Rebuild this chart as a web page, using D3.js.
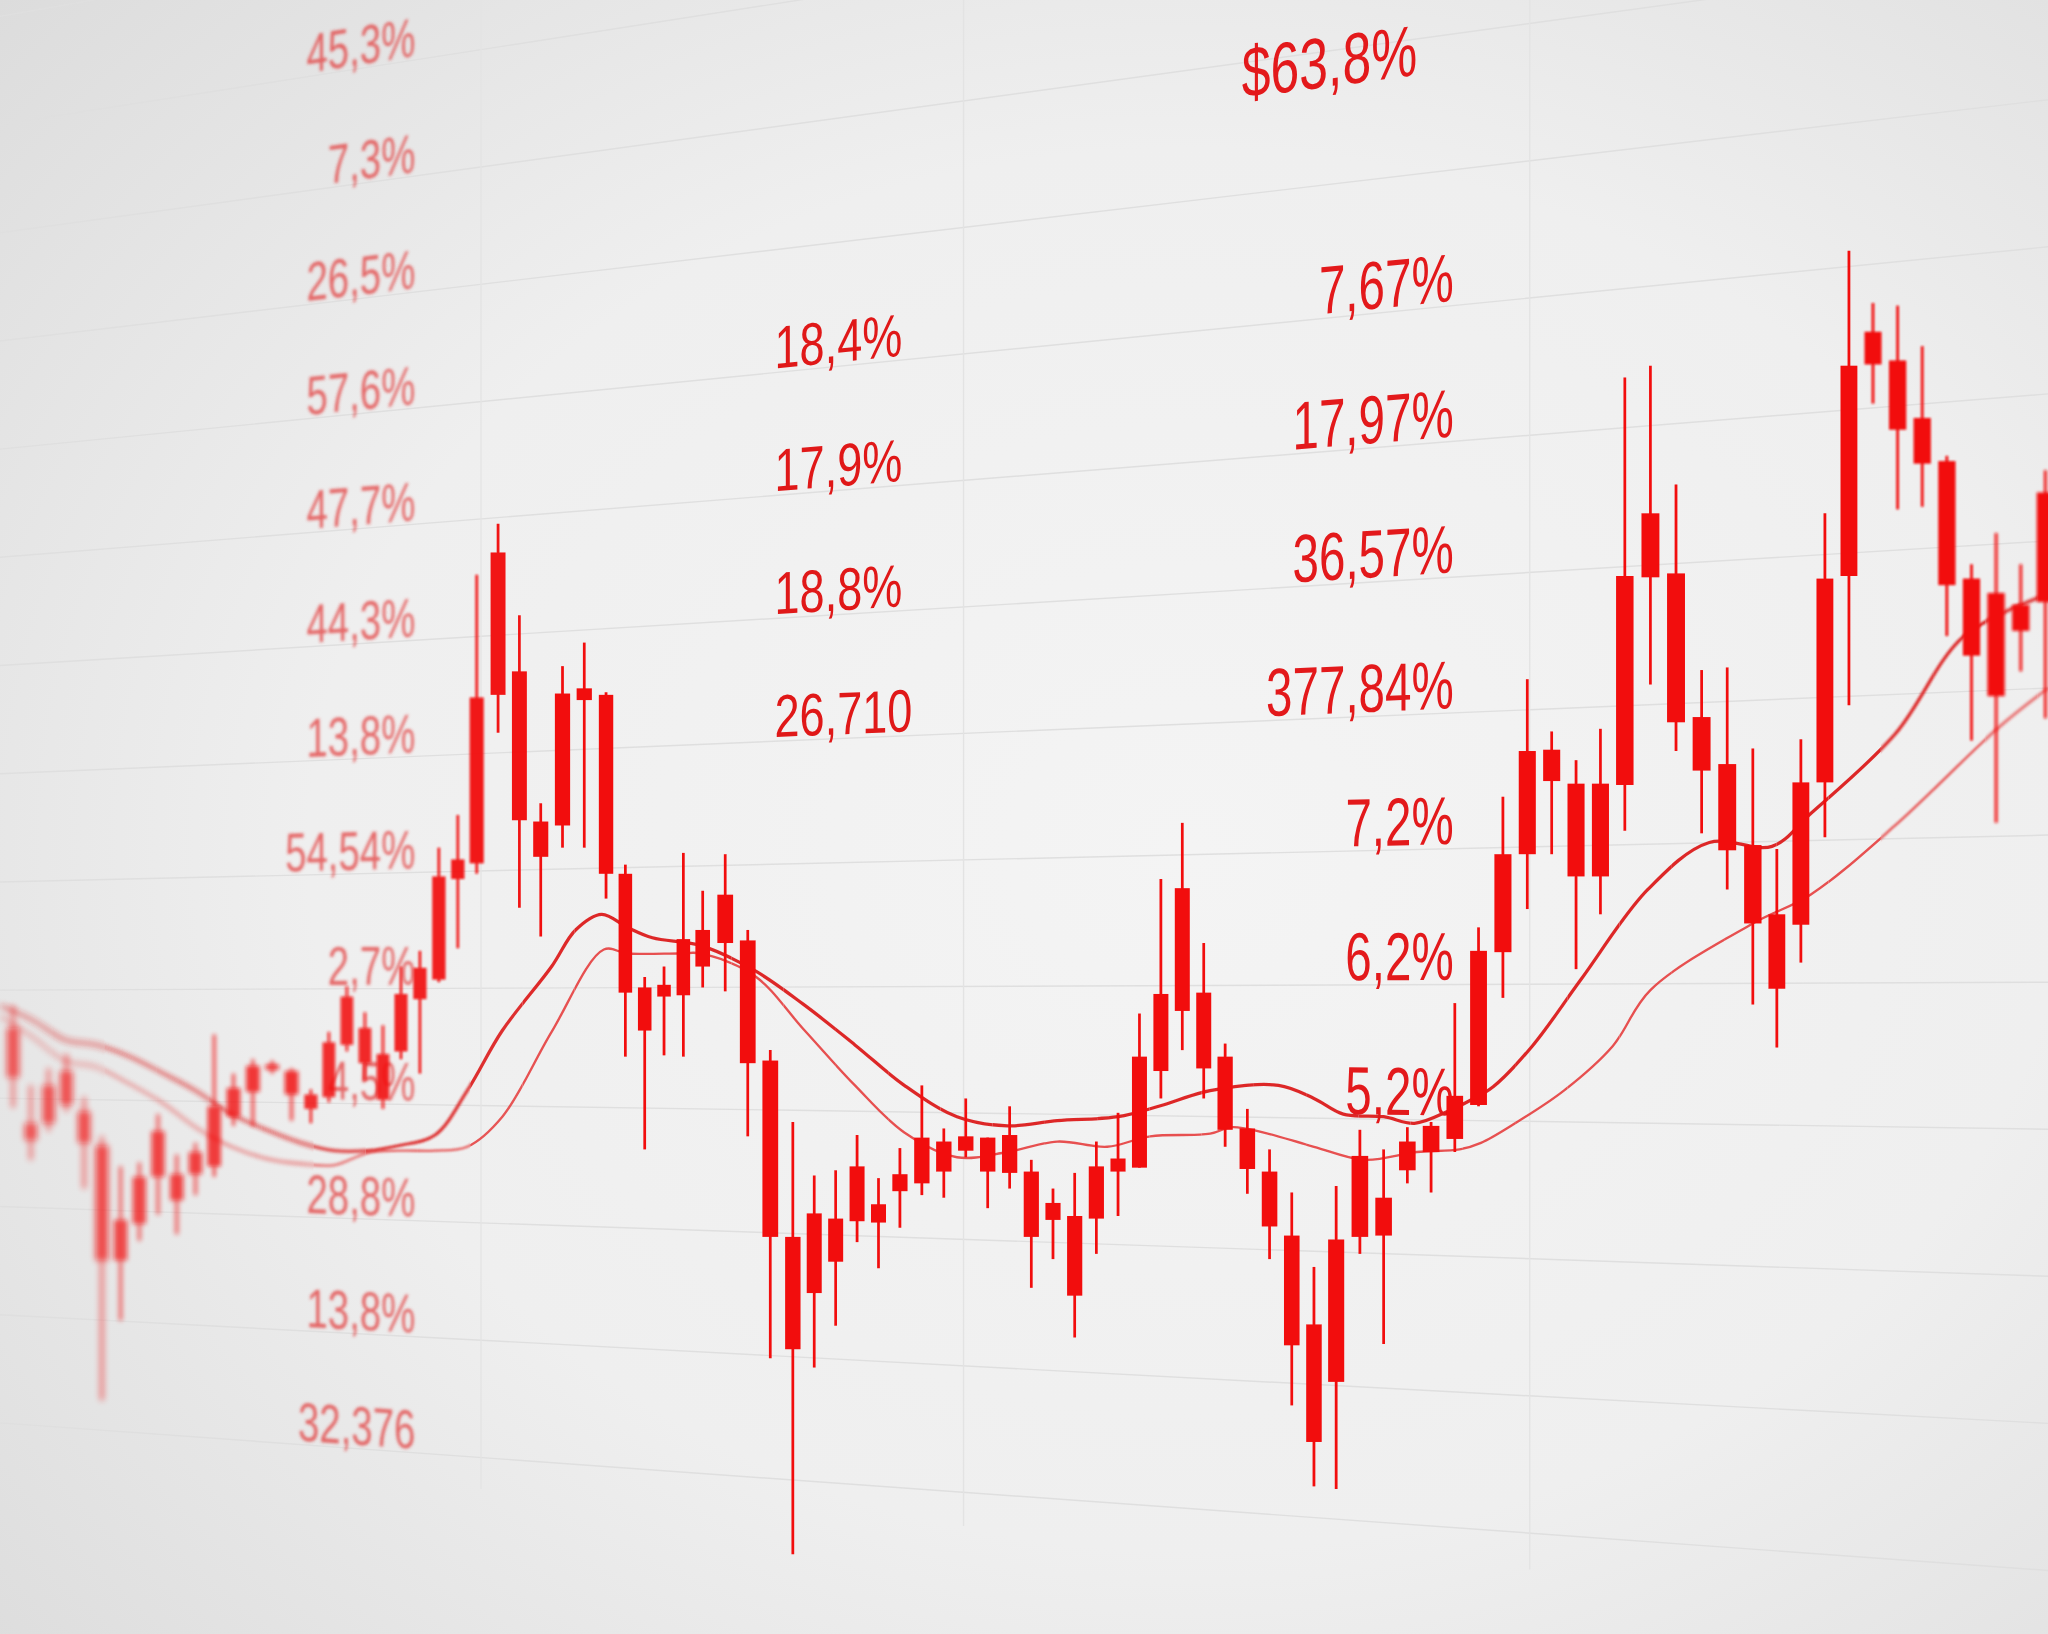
<!DOCTYPE html>
<html>
<head>
<meta charset="utf-8">
<script src="https://cdn.jsdelivr.net/npm/d3@7"></script>
<style>
html, body { margin: 0; padding: 0; overflow: hidden; background: #eeeeee; }
svg { display: block; }
</style>
</head>
<body>
<svg id="chart" width="2048" height="1634"></svg>
<script>
// ---------------- DATA ----------------
const open = [46.4,39.1,39.1,40.5,40.0,37.4,31.7,31.4,35.0,35.2,
  35.2,35.8,39.6,41.5,43.2,43.1,41.3,41.1,45.1,46.4,
  44.4,44.6,48.6,50.1,57.8,59.0,71.9,73.7,62.2,61.9,
  71.5,71.9,58.2,49.5,48.8,48.9,51.1,52.9,53.1,43.9,
  30.4,26.1,28.5,31.6,32.9,33.9,34.5,35.4,37.0,38.0,
  35.3,35.4,33.0,32.0,31.8,35.4,35.7,43.1,47.7,49.1,
  44.2,38.7,35.4,30.5,23.7,19.3,30.4,33.4,35.5,36.9,
  37.9,40.5,52.2,59.7,65.3,65.1,58.0,65.0,80.9,81.2,
  70.2,66.6,60.4,55.1,54.3,65.2,81.0,97.2,97.5,93.1,
  89.8,80.8,79.7,76.8,79.0];
const close = [42.6,37.8,42.0,43.1,37.6,28.6,28.6,35.0,38.5,33.2,
  36.9,40.4,41.8,43.5,43.6,41.3,40.2,45.3,48.8,43.7,
  40.9,49.0,51.0,58.0,59.3,71.7,82.8,62.3,59.5,72.0,
  72.4,58.2,49.1,46.2,49.7,53.2,53.9,56.6,43.7,30.4,
  21.8,32.2,31.8,35.8,31.5,35.2,38.0,37.7,38.1,35.4,
  38.2,30.4,31.7,25.9,35.8,36.4,44.2,49.0,57.1,43.3,
  38.6,35.6,31.2,22.1,14.7,30.2,36.6,30.5,37.7,38.9,
  41.2,52.3,59.7,67.6,67.7,58.0,65.1,81.0,85.8,69.8,
  66.1,60.0,54.4,49.4,65.2,80.8,97.1,99.7,92.2,89.6,
  80.3,74.9,71.8,78.8,87.4];
const high = [48.1,42.0,43.3,44.4,41.1,38.1,35.8,36.1,39.8,36.7,
  37.6,45.9,42.9,44.0,43.9,43.3,41.7,46.1,49.6,47.6,
  46.6,51.1,52.3,60.2,62.7,81.1,85.0,78.0,63.6,74.1,
  75.9,72.1,58.9,50.3,51.1,59.8,56.9,59.7,53.9,44.7,
  39.2,35.1,35.5,38.2,34.9,37.2,42.0,38.7,41.0,38.0,
  40.4,36.3,34.1,35.3,37.7,39.9,47.5,57.8,62.1,52.9,
  45.2,40.2,37.1,33.8,28.1,34.3,38.6,37.1,38.8,39.2,
  48.3,54.1,64.1,73.1,69.1,66.9,69.3,96.2,97.1,88.0,
  73.8,74.0,67.8,60.1,68.5,85.8,105.9,101.9,101.7,98.6,
  90.2,81.9,84.3,81.9,89.1];
const low = [40.3,36.3,38.5,40.0,34.1,17.9,24.0,30.1,32.1,30.6,
  33.6,35.0,38.9,38.9,42.9,39.3,39.1,40.7,44.6,42.4,
  40.2,44.0,42.9,49.9,52.5,58.2,69.0,55.6,53.4,60.2,
  60.2,56.3,44.2,37.1,44.3,44.2,49.5,49.2,38.1,21.1,
  6.1,20.4,23.6,30.0,28.0,31.1,33.6,33.4,36.5,32.6,
  34.1,26.5,28.7,22.7,29.1,32.0,35.7,41.0,44.7,41.0,
  37.3,33.7,28.7,17.5,11.3,11.1,29.1,22.2,34.5,33.8,
  36.9,40.4,48.7,55.5,59.7,50.9,55.1,61.5,72.7,67.6,
  61.3,57.0,48.2,44.9,51.4,61.0,71.1,94.2,86.1,86.3,
  76.4,68.4,62.1,73.7,70.1];

// moving-average style lines, read as (candle position, value)
const maFastIdx = [-0.7,1.1,2.9,4.7,6.5,8.3,10.0,11.9,13.7,15.5,17.3,19.1,20.9,22.8,24.5,26.2,28.5,29.6,30.8,32.1,33.4,35.9,38.3,40.5,42.9,45.2,47.6,49.9,52.2,55.0,56.9,59.3,62.4,64.0,65.3,67.0,68.3,69.8,70.7,71.6,73.2,75.2,77.9,80.3,82.8,84.4,87.9,90.7,94.1];
const maFast = [48.1,47.0,45.5,45.1,44.2,42.9,41.6,39.8,38.6,37.6,37.0,37.0,37.4,38.2,41.6,46.2,51.1,53.9,55.1,54.1,53.3,52.7,50.8,48.2,45.1,42.0,39.6,38.9,39.3,39.6,40.4,41.6,42.0,41.0,39.8,39.6,39.1,40.1,40.9,41.9,45.0,50.1,57.0,60.6,60.3,62.8,68.9,76.4,79.6];
const maSlowIdx = [-0.7,1.1,2.9,4.7,6.5,8.3,10.0,11.9,13.7,15.5,17.3,19.1,20.9,22.8,24.5,26.2,28.5,30.9,32.1,34.8,35.9,38.3,40.5,42.9,45.2,47.6,49.9,52.2,54.5,56.5,59.3,60.3,61.7,64.0,66.2,68.4,70.2,71.1,72.5,74.5,76.5,78.0,82.0,84.4,87.9,92.1,94.1];
const maSlow = [47.3,45.7,43.9,43.4,42.1,40.6,38.8,37.3,36.4,36.0,35.9,36.8,37.0,37.0,37.3,39.6,46.1,52.4,52.1,52.1,52.1,50.4,46.3,42.0,38.4,36.5,36.9,37.7,37.3,38.1,38.3,38.8,38.4,37.3,36.3,36.9,37.1,37.6,39.1,41.6,45.0,49.3,54.4,56.6,61.9,69.4,72.4];

// text labels
const leftLabels = ["45,3%","7,3%","26,5%","57,6%","47,7%","44,3%","13,8%","54,54%","2,7%","4,5%","28,8%","13,8%","32,376"];
const middleLabels = ["18,4%","17,9%","18,8%","26,710"];
const middleRows = [3,4,5,6];
const rightLabels = ["7,67%","17,97%","36,57%","377,84%","7,2%","6,2%","5,2%"];
const rightRows = [3,4,5,6,7,8,9];
const headerLabel = "$63,8%";
const headerRow = 1.3;
const gridRows = d3.range(-1, 13);
const vGridIdx = [25.2, 47.9, 73.1];

// ---------------- LAYOUT ----------------
const W = 2048, H = 1634, S = W / 1568;
const RED = "#f20d0d";
const VPX = -4364, VPY = 775, REFX = 272;   // perspective vanishing point (display units)
const persp = (x, yRef) => VPY + (yRef - VPY) * (x - VPX) / (REFX - VPX);
const slopeOf = yRef => (yRef - VPY) / (REFX - VPX);

const xScale = d3.scaleLinear()
  .domain([0,5,11,16,21,25,28,31,36,40,45,50,55,60,65,71,77,82,87,94])
  .range([10,78,164,238,307,365,414,464,538,607,689,773,856,938,1023,1132,1244,1342,1434,1566]);
const yScale = d3.scaleLinear().domain([0, 125.1]).range([1251, 0]);
const rowY = d3.scaleLinear().domain([0, 12]).range([50, 1106]);

const svg = d3.select("#chart");
const defs = svg.append("defs");

const bg = defs.append("radialGradient").attr("id", "bg")
  .attr("cx", "58%").attr("cy", "52%").attr("r", "78%");
bg.append("stop").attr("offset", "0%").attr("stop-color", "#f4f4f4");
bg.append("stop").attr("offset", "55%").attr("stop-color", "#efefef");
bg.append("stop").attr("offset", "100%").attr("stop-color", "#dcdcdc");
svg.append("rect").attr("width", W).attr("height", H).attr("fill", "url(#bg)");

const g = svg.append("g").attr("transform", `scale(${S})`);

// depth of field
function blurAt(x) {
  if (x < 430) return 0.3 + (430 - x) / 430 * 2.4;
  if (x > 1350) return 0.3 + (x - 1350) / 220 * 1.0;
  return 0.3;
}
function fadeAt(x) { return x < 430 ? 1 - (430 - x) / 430 * 0.35 : 1; }
const made = {};
function filterFor(x) {
  const s = Math.round(blurAt(x) * 10) / 10;
  const id = "blur" + String(s).replace(".", "_");
  if (!made[id]) {
    defs.append("filter").attr("id", id)
      .attr("filterUnits", "userSpaceOnUse")
      .attr("x", -300).attr("y", -300).attr("width", 2200).attr("height", 1900)
      .append("feGaussianBlur").attr("stdDeviation", s);
    made[id] = true;
  }
  return `url(#${id})`;
}

// ---------------- GRID ----------------
const grid = g.append("g").attr("fill", "none");
grid.selectAll("line.h").data(gridRows).join("line").attr("class", "h")
  .attr("stroke", "#dfdfdf").attr("stroke-width", 1.1)
  .attr("x1", -5).attr("x2", 1575)
  .attr("y1", k => persp(-5, rowY(k) + 3))
  .attr("y2", k => persp(1575, rowY(k) + 3));
grid.selectAll("line.v").data(vGridIdx).join("line").attr("class", "v")
  .attr("stroke", "#e3e3e3").attr("stroke-width", 1.0)
  .attr("x1", d => xScale(d)).attr("x2", d => xScale(d))
  .attr("y1", 0).attr("y2", d => persp(xScale(d), rowY(12.3)));

// ---------------- TEXT ----------------
function addLabel(parent, text, x, row, anchor, size, sx, color, op) {
  const yRef = rowY(row);
  const sl = slopeOf(yRef);
  parent.append("text")
    .attr("transform", `translate(${x},${persp(x, yRef)}) matrix(${sx},${sx * sl},0,1,0,0)`)
    .attr("text-anchor", anchor)
    .attr("font-family", "'Liberation Sans', Arial, Helvetica, sans-serif")
    .attr("font-size", size)
    .attr("fill", color)
    .attr("opacity", op)
    .text(text);
}
const leftG = g.append("g").attr("filter", filterFor(250));
leftLabels.forEach((t, k) => addLabel(leftG, t, 318, k, "end", 42, 0.70, "#e23434", 0.72));
const midG = g.append("g");
middleLabels.forEach((t, i) => addLabel(midG, t, 593, middleRows[i], "start", 46, 0.75, "#e01818", 1));
const rightG = g.append("g");
rightLabels.forEach((t, i) => addLabel(rightG, t, 1113, rightRows[i], "end", 52, 0.70, "#e3191b", 1));
addLabel(rightG, headerLabel, 1085, headerRow, "end", 55, 0.72, "#e3191b", 1);

// ---------------- MOVING LINES ----------------
const lineFast = d3.line().x((d, i) => xScale(maFastIdx[i])).y(d => yScale(d)).curve(d3.curveCatmullRom.alpha(0.5));
const lineSlow = d3.line().x((d, i) => xScale(maSlowIdx[i])).y(d => yScale(d)).curve(d3.curveCatmullRom.alpha(0.5));
const zones = d3.range(-40, 1600, 40);
zones.forEach((x0, zi) => {
  const cid = "zone" + zi;
  defs.append("clipPath").attr("id", cid)
    .append("rect").attr("x", x0).attr("y", -50).attr("width", 40).attr("height", 1400);
  const cx = x0 + 20;
  const zg = g.append("g").attr("clip-path", `url(#${cid})`)
    .append("g").attr("filter", filterFor(cx)).attr("opacity", fadeAt(cx) * 0.95)
    .attr("fill", "none");
  zg.append("path").attr("d", lineSlow(maSlow)).attr("stroke", "#e64646").attr("stroke-width", 1.8);
  zg.append("path").attr("d", lineFast(maFast)).attr("stroke", "#dc1f1f").attr("stroke-width", 2.5);
});

// ---------------- CANDLES ----------------
const idx = d3.range(open.length);
const candles = g.append("g").selectAll("g.candle").data(idx).join("g")
  .attr("class", "candle")
  .attr("filter", i => filterFor(xScale(i)))
  .attr("opacity", i => fadeAt(xScale(i)));
candles.append("line")
  .attr("x1", i => xScale(i)).attr("x2", i => xScale(i))
  .attr("y1", i => yScale(high[i])).attr("y2", i => yScale(low[i]))
  .attr("stroke", RED).attr("stroke-width", 2.1);
candles.append("rect")
  .attr("x", i => xScale(i) - (xScale(i + 0.5) - xScale(i - 0.5)) * 0.35)
  .attr("width", i => (xScale(i + 0.5) - xScale(i - 0.5)) * 0.7)
  .attr("y", i => yScale(Math.max(open[i], close[i])))
  .attr("height", i => Math.max(3, yScale(Math.min(open[i], close[i])) - yScale(Math.max(open[i], close[i]))))
  .attr("fill", RED);
</script>
</body>
</html>
